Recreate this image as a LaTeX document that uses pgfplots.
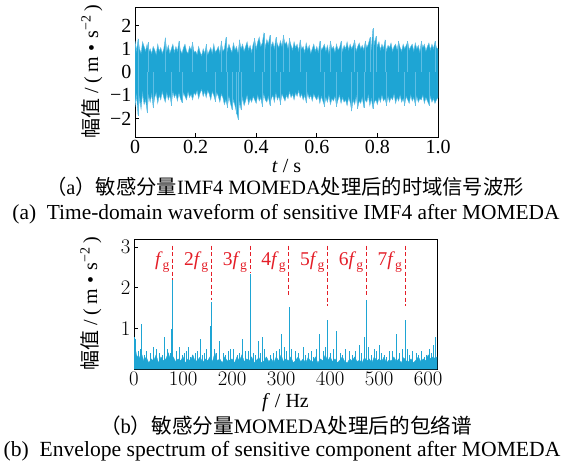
\documentclass[border=0pt]{standalone}
\usepackage{pgfplots}
\pgfplotsset{compat=1.18}
\usepackage{fontspec}
\setmainfont{Liberation Serif}
\newfontfamily\cjk{Noto Sans CJK SC}
\definecolor{wave}{RGB}{30,165,212}
\definecolor{wavelight}{RGB}{95,190,228}
\definecolor{lblred}{RGB}{228,30,40}
\newcommand{\fs}{\fontsize{20}{22}\selectfont}
\newcommand{\ylab}{{\cjk 幅值}\hspace{0.25em}/\hspace{0.25em}(\hspace{0.2em}m\hspace{0.3em}•\hspace{0.3em}s\textsuperscript{−2}\hspace{0.15em})}
\pgfplotsset{
  myaxis/.style={
    scale only axis, width=303pt, height=130pt,
    tick align=inside, xtick pos=bottom, ytick pos=left,
    major tick length=4pt,
    axis line style={line width=0.8pt},
    tick style={line width=0.8pt, black},
    ticklabel style={font=\fs},
    label style={font=\fs},
    ylabel style={at={(axis description cs:-0.142,0.5)}, anchor=center},
  }
}
\begin{document}
\begin{tikzpicture}
\path[use as bounding box] (0pt,0pt) rectangle (569pt,-463pt);
% ---------- (a) time domain (x = sample index, 200 samples per second) ----------
\begin{axis}[myaxis, at={(135pt,-137pt)}, anchor=south west,
  xmin=0, xmax=200, ymin=-2.8, ymax=2.8,
  xtick={0,40,80,120,160,200}, xticklabels={0,0.2,0.4,0.6,0.8,1.0},
  ytick={-2,-1,0,1,2}, yticklabels={−2,−1,0,1,2},
  xlabel style={at={(axis description cs:0.5,-0.225)}, anchor=center},
  xlabel={\textit{t} / s}, ylabel={\ylab}]
\addplot[fill=wave, draw=wavelight, line width=0.4pt] coordinates {
(0,1.35)(1,0.9)(2,1.4)(3,1.0)(4,0.8)(5,1.3)(6,1.1)(7,0.9)(8,1.2)(9,0.85)(10,1.0)(11,0.8)(12,1.1)(13,0.95)(14,0.75)(15,1.2)(16,0.9)(17,1.05)(18,0.8)(19,1.0)
(20,1.45)(21,0.9)(22,1.15)(23,0.8)(24,1.0)(25,1.2)(26,0.85)(27,1.1)(28,0.9)(29,1.3)(30,0.95)(31,0.8)(32,1.05)(33,1.2)(34,0.9)(35,0.8)(36,1.1)(37,0.95)(38,1.25)(39,0.85)
(40,0.9)(41,0.75)(42,1.1)(43,0.85)(44,0.7)(45,1.0)(46,0.8)(47,1.15)(48,0.75)(49,0.9)(50,1.05)(51,0.8)(52,1.2)(53,0.85)(54,0.95)(55,1.1)(56,0.8)(57,1.3)(58,0.9)(59,1.0)
(60,1.45)(61,0.9)(62,1.2)(63,1.0)(64,0.85)(65,1.25)(66,0.95)(67,1.1)(68,0.8)(69,1.35)(70,1.0)(71,1.2)(72,0.9)(73,1.1)(74,1.3)(75,0.95)(76,1.15)(77,0.85)(78,1.2)(79,1.4)
(80,1.0)(81,1.3)(82,1.5)(83,1.1)(84,1.25)(85,1.65)(86,1.05)(87,1.4)(88,1.2)(89,1.55)(90,1.1)(91,1.3)(92,1.0)(93,1.45)(94,1.2)(95,1.05)(96,1.35)(97,1.1)(98,1.55)(99,1.2)
(100,1.3)(101,1.0)(102,1.4)(103,1.15)(104,0.95)(105,1.3)(106,1.05)(107,1.2)(108,0.9)(109,1.35)(110,1.0)(111,1.1)(112,0.85)(113,1.25)(114,0.95)(115,1.15)(116,0.8)(117,1.0)(118,1.2)(119,0.9)
(120,1.1)(121,0.85)(122,1.3)(123,0.95)(124,1.05)(125,1.2)(126,0.9)(127,1.15)(128,0.8)(129,1.3)(130,1.0)(131,1.1)(132,0.85)(133,1.2)(134,0.95)(135,1.05)(136,1.3)(137,0.9)(138,1.15)(139,1.0)
(140,1.3)(141,0.95)(142,1.2)(143,1.0)(144,1.15)(145,1.35)(146,0.9)(147,1.1)(148,1.25)(149,1.0)(150,1.15)(151,0.95)(152,1.3)(153,1.05)(154,1.2)(155,1.45)(156,1.0)(157,1.85)(158,1.2)(159,1.5)
(160,1.1)(161,1.3)(162,0.95)(163,1.2)(164,1.0)(165,1.35)(166,0.9)(167,1.15)(168,1.05)(169,1.25)(170,0.9)(171,1.1)(172,1.2)(173,0.95)(174,1.3)(175,1.05)(176,0.9)(177,1.2)(178,1.0)(179,1.15)
(180,1.3)(181,0.95)(182,1.1)(183,1.2)(184,0.9)(185,1.25)(186,1.0)(187,1.15)(188,0.85)(189,1.3)(190,1.05)(191,1.2)(192,0.9)(193,1.1)(194,1.25)(195,0.95)(196,1.2)(197,1.0)(198,1.3)(199,1.05)
(200,1.0)
(200,-1.1)(199,-1.2)(198,-1.35)(197,-1.15)(196,-1.3)(195,-1.05)(194,-1.4)(193,-1.25)(192,-1.1)(191,-1.35)(190,-1.0)(189,-1.2)(188,-1.15)(187,-1.3)(186,-1.05)(185,-1.4)(184,-1.1)(183,-1.25)(182,-1.0)(181,-1.35)
(180,-1.2)(179,-1.05)(178,-1.4)(177,-1.15)(176,-1.3)(175,-1.0)(174,-1.25)(173,-1.1)(172,-1.35)(171,-0.95)(170,-1.2)(169,-1.1)(168,-1.3)(167,-1.05)(166,-1.4)(165,-1.15)(164,-1.25)(163,-1.0)(162,-1.3)(161,-1.1)
(160,-1.4)(159,-1.2)(158,-1.3)(157,-1.55)(156,-1.15)(155,-1.45)(154,-1.0)(153,-1.3)(152,-1.2)(151,-1.5)(150,-1.1)(149,-1.35)(148,-1.25)(147,-1.55)(146,-1.05)(145,-1.4)(144,-1.2)(143,-1.65)(142,-1.3)(141,-1.1)
(140,-1.45)(139,-1.2)(138,-1.3)(137,-1.1)(136,-1.35)(135,-1.0)(134,-1.2)(133,-1.45)(132,-1.05)(131,-1.25)(130,-1.15)(129,-1.4)(128,-1.0)(127,-1.3)(126,-1.1)(125,-1.45)(124,-1.25)(123,-1.05)(122,-1.35)(121,-1.0)
(120,-1.2)(119,-1.1)(118,-0.95)(117,-1.25)(116,-1.0)(115,-1.15)(114,-0.9)(113,-1.3)(112,-1.0)(111,-1.2)(110,-0.95)(109,-1.1)(108,-0.8)(107,-1.05)(106,-0.9)(105,-1.2)(104,-0.95)(103,-1.1)(102,-0.85)(101,-1.15)
(100,-1.0)(99,-1.25)(98,-1.1)(97,-0.95)(96,-1.35)(95,-1.05)(94,-1.2)(93,-0.9)(92,-1.3)(91,-1.0)(90,-1.15)(89,-1.4)(88,-1.05)(87,-1.3)(86,-1.2)(85,-0.95)(84,-1.45)(83,-1.1)(82,-1.25)(81,-1.0)
(80,-1.35)(79,-1.2)(78,-1.05)(77,-1.3)(76,-1.15)(75,-1.4)(74,-1.0)(73,-1.25)(72,-1.45)(71,-1.1)(70,-1.6)(69,-1.3)(68,-2.0)(67,-1.75)(66,-1.45)(65,-1.2)(64,-1.6)(63,-1.35)(62,-1.05)(61,-1.5)
(60,-1.2)(59,-1.4)(58,-1.1)(57,-0.95)(56,-1.3)(55,-1.05)(54,-0.9)(53,-1.25)(52,-1.0)(51,-0.85)(50,-1.2)(49,-0.95)(48,-0.8)(47,-1.1)(46,-0.85)(45,-1.05)(44,-0.75)(43,-0.9)(42,-1.15)(41,-0.8)
(40,-1.0)(39,-0.9)(38,-1.2)(37,-0.95)(36,-1.1)(35,-0.85)(34,-1.2)(33,-1.05)(32,-0.9)(31,-1.3)(30,-1.15)(29,-0.9)(28,-1.25)(27,-0.95)(26,-1.1)(25,-0.85)(24,-1.4)(23,-1.0)(22,-1.2)(21,-0.9)
(20,-1.3)(19,-1.1)(18,-0.85)(17,-1.2)(16,-1.0)(15,-1.35)(14,-0.9)(13,-1.1)(12,-1.5)(11,-0.95)(10,-1.3)(9,-1.0)(8,-1.7)(7,-1.2)(6,-1.4)(5,-0.9)(4,-1.6)(3,-1.1)(2,-1.85)(1,-1.0)(0,-1.5)
} -- cycle;
\addplot[ycomb, wavelight, line width=0.5pt, mark=none] coordinates {
(2,1.42)(9,1.3)(20,1.48)(29,1.35)(38,1.3)(47,1.2)(57,1.35)(60,1.5)(69,1.4)(79,1.45)
(85,1.68)(89,1.6)(93,1.5)(98,1.58)(102,1.45)(109,1.4)(122,1.35)(129,1.35)(136,1.35)(145,1.4)
(152,1.35)(155,1.5)(157,1.88)(159,1.55)(165,1.4)(174,1.35)(180,1.35)(189,1.35)(198,1.35)
(2,-1.9)(8,-1.75)(12,-1.55)(24,-1.45)(31,-1.35)(53,-1.3)(61,-1.55)(64,-1.65)(67,-1.8)(68,-2.05)
(70,-1.65)(84,-1.5)(89,-1.45)(96,-1.4)(113,-1.35)(125,-1.5)(133,-1.5)(143,-1.7)(147,-1.6)(151,-1.55)
(157,-1.6)(166,-1.45)(178,-1.45)(185,-1.45)(194,-1.45)
};
\end{axis}
% ---------- (b) envelope spectrum ----------
\begin{axis}[myaxis, at={(134pt,-369pt)}, anchor=south west,
  xmin=0, xmax=618, ymin=0, ymax=3.2,
  xtick={0,100,...,600}, ytick={1,2,3},
  xlabel style={at={(axis description cs:0.5,-0.26)}, anchor=center},
  xlabel={\textit{f} / Hz}, ylabel={\ylab}]
\addplot[fill=wave, draw=wave, line width=0.3pt] coordinates {
(0,0.75)(5,0.35)(10,0.25)(15,0.4)(20,0.2)(25,0.3)(30,0.15)(35,0.25)(40,0.2)(45,0.35)(50,0.15)(55,0.3)(60,0.2)(65,0.25)(70,0.4)(75,0.2)(80,0.3)(85,0.18)(90,0.25)(95,0.2)
(100,0.3)(105,0.15)(110,0.25)(115,0.2)(120,0.35)(125,0.18)(130,0.22)(135,0.3)(140,0.15)(145,0.25)(150,0.2)(155,0.3)(160,0.18)(165,0.4)(170,0.2)(175,0.25)(180,0.15)(185,0.3)(190,0.2)(195,0.22)
(200,0.25)(205,0.15)(210,0.3)(215,0.2)(220,0.35)(225,0.18)(230,0.25)(235,0.2)(240,0.3)(245,0.15)(250,0.22)(255,0.28)(260,0.15)(265,0.2)(270,0.3)(275,0.18)(280,0.25)(285,0.15)(290,0.3)(295,0.2)
(300,0.35)(305,0.18)(310,0.25)(315,0.2)(320,0.3)(325,0.15)(330,0.22)(335,0.3)(340,0.18)(345,0.25)(350,0.15)(355,0.28)(360,0.2)(365,0.18)(370,0.3)(375,0.15)(380,0.25)(385,0.2)(390,0.35)(395,0.2)
(400,0.3)(405,0.18)(410,0.25)(415,0.15)(420,0.22)(425,0.3)(430,0.18)(435,0.15)(440,0.25)(445,0.2)(450,0.3)(455,0.18)(460,0.22)(465,0.15)(470,0.28)(475,0.2)(480,0.25)(485,0.15)(490,0.3)(495,0.2)
(500,0.25)(505,0.18)(510,0.3)(515,0.15)(520,0.22)(525,0.2)(530,0.3)(535,0.18)(540,0.25)(545,0.15)(550,0.28)(555,0.2)(560,0.18)(565,0.25)(570,0.15)(575,0.22)(580,0.3)(585,0.18)(590,0.25)(595,0.2)
(600,0.35)(605,0.25)(610,0.3)(615,0.25)(618,0.3)
} \closedcycle;
\addplot[ycomb, wave, line width=0.5pt, mark=none] coordinates {
(8,0.45)(12,0.5)(20,0.35)(33,0.4)(45,0.5)(57,0.35)(73,0.4)(98,0.35)(106,0.45)(115,0.3)
(124,0.4)(140,0.35)(148,0.5)(168,0.4)(187,0.35)(197,0.5)(215,0.4)(233,0.45)(248,0.35)(258,0.4)
(266,0.5)(278,0.35)(290,0.45)(296,0.5)(311,0.45)(336,0.4)(350,0.35)(361,0.45)(372,0.5)(391,0.55)
(400,0.4)(407,0.5)(425,0.35)(440,0.45)(464,0.4)(484,0.35)(495,0.45)(505,0.4)(515,0.3)(526,0.45)
(548,0.5)(562,0.35)(575,0.4)(586,0.45)(597,0.35)(607,0.4)
};
\addplot[ycomb, wave, line width=0.7pt, mark=none] coordinates {
(0,0.8)(3,0.75)(16,1.12)(25,0.45)(40,0.55)(52,0.4)(62,0.8)(68,0.5)(77,0.98)(79,2.2)
(86,0.45)(93,0.55)(102,0.4)(111,0.55)(119,0.35)(129,0.45)(136,0.75)(144,0.4)(156,1.05)(158,1.65)
(163,0.5)(175,0.7)(183,0.4)(193,0.45)(203,0.5)(211,0.35)(220,0.75)(228,0.45)(237,2.33)(244,0.4)
(254,0.7)(262,0.8)(270,0.3)(285,0.4)(300,0.87)(306,0.55)(316,1.53)(320,0.5)(330,0.45)(345,0.55)
(356,0.4)(365,0.3)(379,0.87)(386,0.45)(395,1.2)(412,0.93)(420,0.4)(432,0.5)(445,0.35)(452,0.45)
(459,0.6)(470,0.8)(474,1.69)(478,0.55)(490,0.5)(500,0.6)(510,0.35)(520,0.45)(535,0.85)(542,0.4)
(553,1.21)(557,0.5)(568,0.45)(580,0.35)(592,0.3)(602,0.5)(610,0.6)(615,0.8)
};
\pgfplotsset{dl/.style={lblred, line width=0.9pt, dash pattern=on 4pt off 2.5pt}}
\addplot[dl] coordinates {(79,3.04)(79,2.2)};
\addplot[dl] coordinates {(158,3.04)(158,1.71)};
\addplot[dl] coordinates {(237,3.04)(237,2.37)};
\addplot[dl] coordinates {(316,3.04)(316,1.8)};
\addplot[dl] coordinates {(395,3.04)(395,1.54)};
\addplot[dl] coordinates {(474,3.04)(474,1.8)};
\addplot[dl] coordinates {(553,3.04)(553,1.56)};
\tikzset{hl/.style={anchor=east, text=lblred, font=\fontsize{19.5}{21}\selectfont, inner sep=0pt, xshift=-2.5pt}}
\node[hl] at (axis cs:79,2.63) {\textit{f}\textsubscript{g}};
\node[hl] at (axis cs:158,2.63) {2\textit{f}\textsubscript{g}};
\node[hl] at (axis cs:237,2.63) {3\textit{f}\textsubscript{g}};
\node[hl] at (axis cs:316,2.63) {4\textit{f}\textsubscript{g}};
\node[hl] at (axis cs:395,2.63) {5\textit{f}\textsubscript{g}};
\node[hl] at (axis cs:474,2.63) {6\textit{f}\textsubscript{g}};
\node[hl] at (axis cs:553,2.63) {7\textit{f}\textsubscript{g}};
\end{axis}
% ---------- captions ----------
\node[font=\fontsize{20.3}{22}\selectfont] at (285pt,-187pt) {{\cjk （}a{\cjk ）}{\cjk 敏感分量}IMF4 MOMEDA{\cjk 处理后的时域信号波形}};
\node[font=\fontsize{21.4}{22}\selectfont] at (286pt,-214pt) {(a)\ \ Time-domain waveform of sensitive IMF4 after MOMEDA};
\node[font=\fontsize{20.6}{22}\selectfont] at (286pt,-426pt) {{\cjk （}b{\cjk ）}{\cjk 敏感分量}MOMEDA{\cjk 处理后的包络谱}};
\node[font=\fontsize{21.6}{22}\selectfont] at (282pt,-451pt) {(b)\ \ Envelope spectrum of sensitive component after MOMEDA};
\end{tikzpicture}
\end{document}
